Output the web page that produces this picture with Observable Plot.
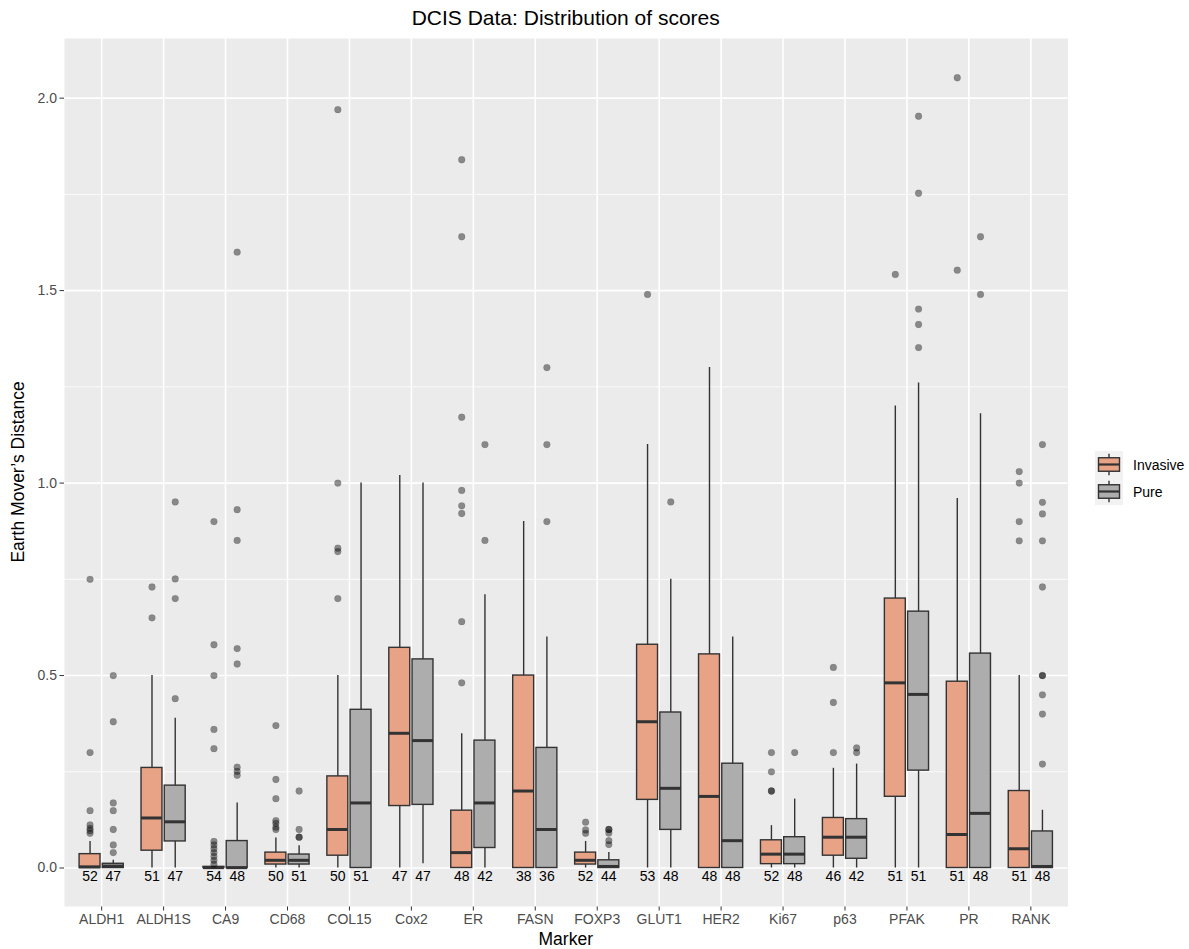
<!DOCTYPE html>
<html><head><meta charset="utf-8">
<script src="https://cdn.jsdelivr.net/npm/d3@7"></script>
<script src="https://cdn.jsdelivr.net/npm/@observablehq/plot@0.6"></script>
<style>
body{margin:0;background:#fff;}
#wrap{position:relative;width:1189px;height:949px;}
</style></head><body><div id="wrap"></div>
<script>
// ---------- data ----------
const markers = ["ALDH1","ALDH1S","CA9","CD68","COL15","Cox2","ER","FASN","FOXP3","GLUT1","HER2","Ki67","p63","PFAK","PR","RANK"];
const groups = ["Invasive","Pure"];
const groupColors = ["#E8A387","#ADADAD"];

const invLo  = [0,0,0,0,0,0,0,0,0,0,0,0,0,0,0,0];
const invQ1  = [0,0.045,0,0.009,0.032,0.161,0,0,0.009,0.177,0,0.010,0.032,0.185,0,0];
const invMed = [0.003,0.130,0.001,0.020,0.100,0.350,0.040,0.200,0.020,0.380,0.186,0.036,0.080,0.481,0.087,0.050];
const invQ3  = [0.036,0.260,0.003,0.040,0.238,0.572,0.149,0.500,0.040,0.580,0.555,0.072,0.130,0.700,0.484,0.200];
const invHi  = [0.069,0.500,0.003,0.078,0.500,1.020,0.349,0.900,0.069,1.100,1.300,0.110,0.259,1.200,0.960,0.500];
const invN   = [52,51,54,50,50,47,48,38,52,53,48,52,46,51,51,51];
const invOut = [
  [0.75,0.30,0.149,0.112,0.103,0.097,0.090],
  [0.73,0.65],
  [0.90,0.58,0.50,0.36,0.31,0.069,0.06,0.05,0.04,0.03,0.02,0.01],
  [0.37,0.23,0.18,0.123,0.116,0.106,0.10],
  [1.97,1.00,0.831,0.822,0.70],
  [],
  [1.84,1.64,1.171,0.981,0.941,0.921,0.640,0.481],
  [],
  [0.119,0.099,0.09],
  [1.49],
  [],
  [0.30,0.25,0.20,0.20],
  [0.521,0.43,0.30],
  [1.542],
  [2.053,1.553],
  [1.03,1.00,0.90,0.85]
];

const purLo  = [0,0,0,0,0,0.011,0,0,0,0,0,0,0,0,0,0];
const purQ1  = [0,0.069,0,0.009,0,0.164,0.052,0,0,0.099,0,0.010,0.024,0.253,0,0];
const purMed = [0.005,0.120,0.001,0.020,0.169,0.331,0.169,0.100,0.004,0.207,0.071,0.036,0.080,0.451,0.142,0.004];
const purQ3  = [0.011,0.214,0.070,0.035,0.411,0.542,0.331,0.312,0.020,0.404,0.271,0.080,0.127,0.666,0.557,0.095];
const purHi  = [0.020,0.389,0.169,0.058,1.000,1.000,0.710,0.600,0.040,0.750,0.600,0.179,0.270,1.260,1.180,0.150];
const purN   = [47,47,48,51,51,47,42,36,44,48,48,48,42,51,48,48];
const purOut = [
  [0.50,0.38,0.169,0.149,0.10,0.06,0.04],
  [0.951,0.751,0.70,0.44],
  [1.60,0.931,0.851,0.57,0.53,0.262,0.251,0.241],
  [0.20,0.10,0.08,0.08],
  [],
  [],
  [1.10,0.851],
  [1.30,1.10,0.90],
  [0.10,0.10,0.091,0.071,0.061],
  [0.951],
  [],
  [0.30],
  [0.312,0.30],
  [1.953,1.753,1.452,1.412,1.352],
  [1.64,1.49],
  [1.10,0.95,0.92,0.85,0.73,0.50,0.50,0.45,0.40,0.27]
];

const yTicks = [0,0.5,1,1.5,2];
const yMinor = [0.25,0.75,1.25,1.75];

// ---------- build tables ----------
const series = [
  {lo: invLo, q1: invQ1, med: invMed, q3: invQ3, hi: invHi, n: invN, out: invOut},
  {lo: purLo, q1: purQ1, med: purMed, q3: purQ3, hi: purHi, n: purN, out: purOut}
];
const DODGE = 0.1875, HALF = 0.169;
const rows = [], outRows = [];
groups.forEach((g, gi) => {
  const s = series[gi];
  markers.forEach((m, i) => {
    const x = i + (gi === 0 ? -DODGE : DODGE);
    rows.push({marker: m, group: g, x, lo: s.lo[i], q1: s.q1[i], med: s.med[i], q3: s.q3[i], hi: s.hi[i], n: s.n[i]});
    s.out[i].forEach(v => outRows.push({marker: m, group: g, x, v}));
  });
});

const FONT = "'Liberation Sans', Arial, Helvetica, sans-serif";
const W = 1189, H = 949, mL = 64, mR = 121.5, mT = 38, mB = 43;

const chart = Plot.plot({
  width: W, height: H,
  marginLeft: mL, marginRight: mR, marginTop: mT, marginBottom: mB,
  style: {fontFamily: FONT, fontSize: "14px", color: "#333333", background: "transparent", overflow: "visible"},
  x: {domain: [-0.6, markers.length - 0.4], ticks: d3.range(markers.length), tickFormat: i => markers[Math.round(i)], tickSize: 4.5, tickPadding: 3, label: null},
  y: {domain: [-0.1, 2.155], ticks: yTicks, tickFormat: d3.format(".1f"), tickSize: 4.5, tickPadding: 3, label: null},
  color: {domain: groups, range: groupColors},
  marks: [
    Plot.frame({fill: "#EBEBEB", stroke: "none"}),
    Plot.ruleY(yMinor, {stroke: "#FFFFFF", strokeWidth: 0.8}),
    Plot.ruleY(yTicks, {stroke: "#FFFFFF", strokeWidth: 1.6}),
    Plot.ruleX(d3.range(markers.length), {stroke: "#FFFFFF", strokeWidth: 1.6}),
    Plot.ruleX(rows, {x: "x", y1: "lo", y2: "hi", stroke: "#333333", strokeWidth: 1.4}),
    Plot.rect(rows, {x1: d => d.x - HALF, x2: d => d.x + HALF, y1: "q1", y2: "q3", fill: "group", stroke: "#333333", strokeWidth: 1.4}),
    Plot.ruleY(rows, {y: "med", x1: d => d.x - HALF, x2: d => d.x + HALF, stroke: "#333333", strokeWidth: 3}),
    Plot.dot(outRows, {x: "x", y: "v", r: 3.4, fill: "#000000", fillOpacity: 0.42, stroke: "#000000", strokeOpacity: 0.15, strokeWidth: 0.6}),
    Plot.text(rows, {x: "x", y: 0, text: d => String(d.n), dy: 9, fill: "#000000", fontSize: 14})
  ]
});

const svg = d3.select(chart);
svg.selectAll('g[aria-label*="axis"] text').attr("fill", "#4D4D4D");

const panelCx = (mL + (W - mR)) / 2;
// title
svg.append("text").attr("x", panelCx).attr("y", 25).attr("text-anchor", "middle")
  .attr("font-family", FONT).attr("font-size", 21).attr("fill", "#000").text("DCIS Data: Distribution of scores");
// axis titles
svg.append("text").attr("x", panelCx).attr("y", 945).attr("text-anchor", "middle")
  .attr("font-family", FONT).attr("font-size", 17.5).attr("fill", "#000").text("Marker");
svg.append("text").attr("transform", `translate(24,${(mT + (H - mB)) / 2}) rotate(-90)`).attr("text-anchor", "middle")
  .attr("font-family", FONT).attr("font-size", 17.5).attr("fill", "#000").text("Earth Mover\u2019s Distance");

// legend
const lg = svg.append("g");
const kx = 1095, kw = 28, kh = 27, ky0 = 451;
groups.forEach((g, gi) => {
  const y0 = ky0 + gi * kh;
  lg.append("rect").attr("x", kx).attr("y", y0).attr("width", kw).attr("height", kh).attr("fill", "#F2F2F2");
  lg.append("line").attr("x1", kx + kw/2).attr("x2", kx + kw/2).attr("y1", y0 + 0.1*kh).attr("y2", y0 + 0.9*kh).attr("stroke", "#333").attr("stroke-width", 1.4);
  lg.append("rect").attr("x", kx + 0.125*kw).attr("y", y0 + 0.25*kh).attr("width", 0.75*kw).attr("height", 0.5*kh)
    .attr("fill", groupColors[gi]).attr("stroke", "#333").attr("stroke-width", 1.4);
  lg.append("line").attr("x1", kx + 0.125*kw).attr("x2", kx + 0.875*kw).attr("y1", y0 + 0.5*kh).attr("y2", y0 + 0.5*kh).attr("stroke", "#333").attr("stroke-width", 2.2);
  lg.append("text").attr("x", 1133).attr("y", y0 + kh/2 + 5).attr("text-anchor", "start")
    .attr("font-family", FONT).attr("font-size", 14).attr("fill", "#000").text(g);
});

document.getElementById("wrap").appendChild(chart);
</script></body></html>
